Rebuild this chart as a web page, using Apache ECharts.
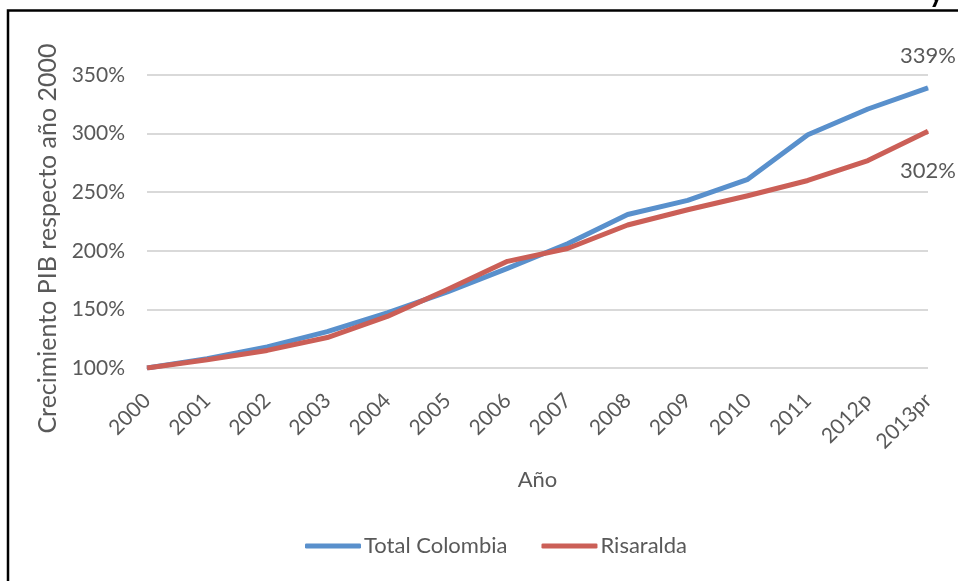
<!DOCTYPE html>
<html>
<head>
<meta charset="utf-8">
<script src="https://cdn.jsdelivr.net/npm/echarts@6/dist/echarts.min.js"></script>
<style>
html,body{margin:0;padding:0;background:#fff;}
#chart{width:958px;height:581px;}
</style>
</head>
<body>
<div id="chart"></div>
<script>
const categories = ['2000','2001','2002','2003','2004','2005','2006','2007','2008','2009','2010','2011','2012p','2013pr'];
const totalColombia = [100, 108, 118, 131, 147, 165, 185, 206, 231, 243, 261, 299, 321, 339];
const risaralda = [100, 107, 115, 126, 144, 167, 191, 202, 222, 235, 247, 260, 277, 302];
const yTicks = {min: 100, max: 350, interval: 50};
const seriesNames = ['Total Colombia', 'Risaralda'];

const FONT = 'Lato, "Open Sans", sans-serif';
const TXT = '#595959';

function endLabel(arr, pos, dist) {
  return arr.map((v, i) => i === arr.length - 1
    ? {value: v, label: {show: true, position: pos, distance: dist, formatter: v + '%', color: TXT, fontSize: 22, fontFamily: FONT}}
    : v);
}

const chart = echarts.init(document.getElementById('chart'), null, {renderer: 'canvas'});
chart.setOption({
  animation: false,
  backgroundColor: '#fff',
  graphic: [{
    type: 'rect', silent: true,
    shape: {x: 8, y: 10.5, width: 1000, height: 700},
    style: {fill: 'none', stroke: '#000', lineWidth: 2.5}
  }, {
    type: 'text', silent: true, left: 929, top: -21,
    style: {text: 'y', fill: '#000', font: 'bold 28px Lato, sans-serif'}
  }],
  grid: {left: 147, right: 30, top: 75, bottom: 213, containLabel: false},
  legend: {
    data: seriesNames,
    top: 530,
    left: 300,
    icon: 'roundRect',
    itemWidth: 56, itemHeight: 5, itemGap: 34,
    textStyle: {color: TXT, fontSize: 22, fontFamily: FONT, padding: [0,0,0,-2]}
  },
  xAxis: {
    type: 'category',
    data: categories,
    boundaryGap: false,
    name: 'Año',
    nameLocation: 'middle',
    nameGap: 101,
    nameTextStyle: {color: TXT, fontSize: 22, fontFamily: FONT},
    axisLine: {show: false},
    axisTick: {show: false},
    axisLabel: {rotate: 45, color: TXT, fontSize: 21, fontFamily: FONT, margin: 29, interval: 0}
  },
  yAxis: {
    type: 'value',
    min: yTicks.min, max: yTicks.max, interval: yTicks.interval,
    name: 'Crecimiento PIB respecto año 2000',
    nameLocation: 'middle',
    nameGap: 85,
    nameTextStyle: {color: TXT, fontSize: 25, fontFamily: FONT, padding: [0,0,0,-34]},
    axisLine: {show: false},
    axisTick: {show: false},
    axisLabel: {color: TXT, fontSize: 21, fontFamily: FONT, margin: 22, formatter: '{value}%'},
    splitLine: {lineStyle: {color: '#D9D9D9', width: 2}}
  },
  series: [
    {
      name: seriesNames[0], type: 'line', data: endLabel(totalColombia, 'top', 20),
      symbol: 'circle', symbolSize: 1, showSymbol: true,
      lineStyle: {width: 5, color: '#5990CC', join: 'round'},
      itemStyle: {color: '#5990CC'}
    },
    {
      name: seriesNames[1], type: 'line', data: endLabel(risaralda, 'bottom', 28),
      symbol: 'circle', symbolSize: 1, showSymbol: true,
      lineStyle: {width: 5, color: '#CB5F57', join: 'round'},
      itemStyle: {color: '#CB5F57'}
    }
  ]
});
</script>
</body>
</html>
